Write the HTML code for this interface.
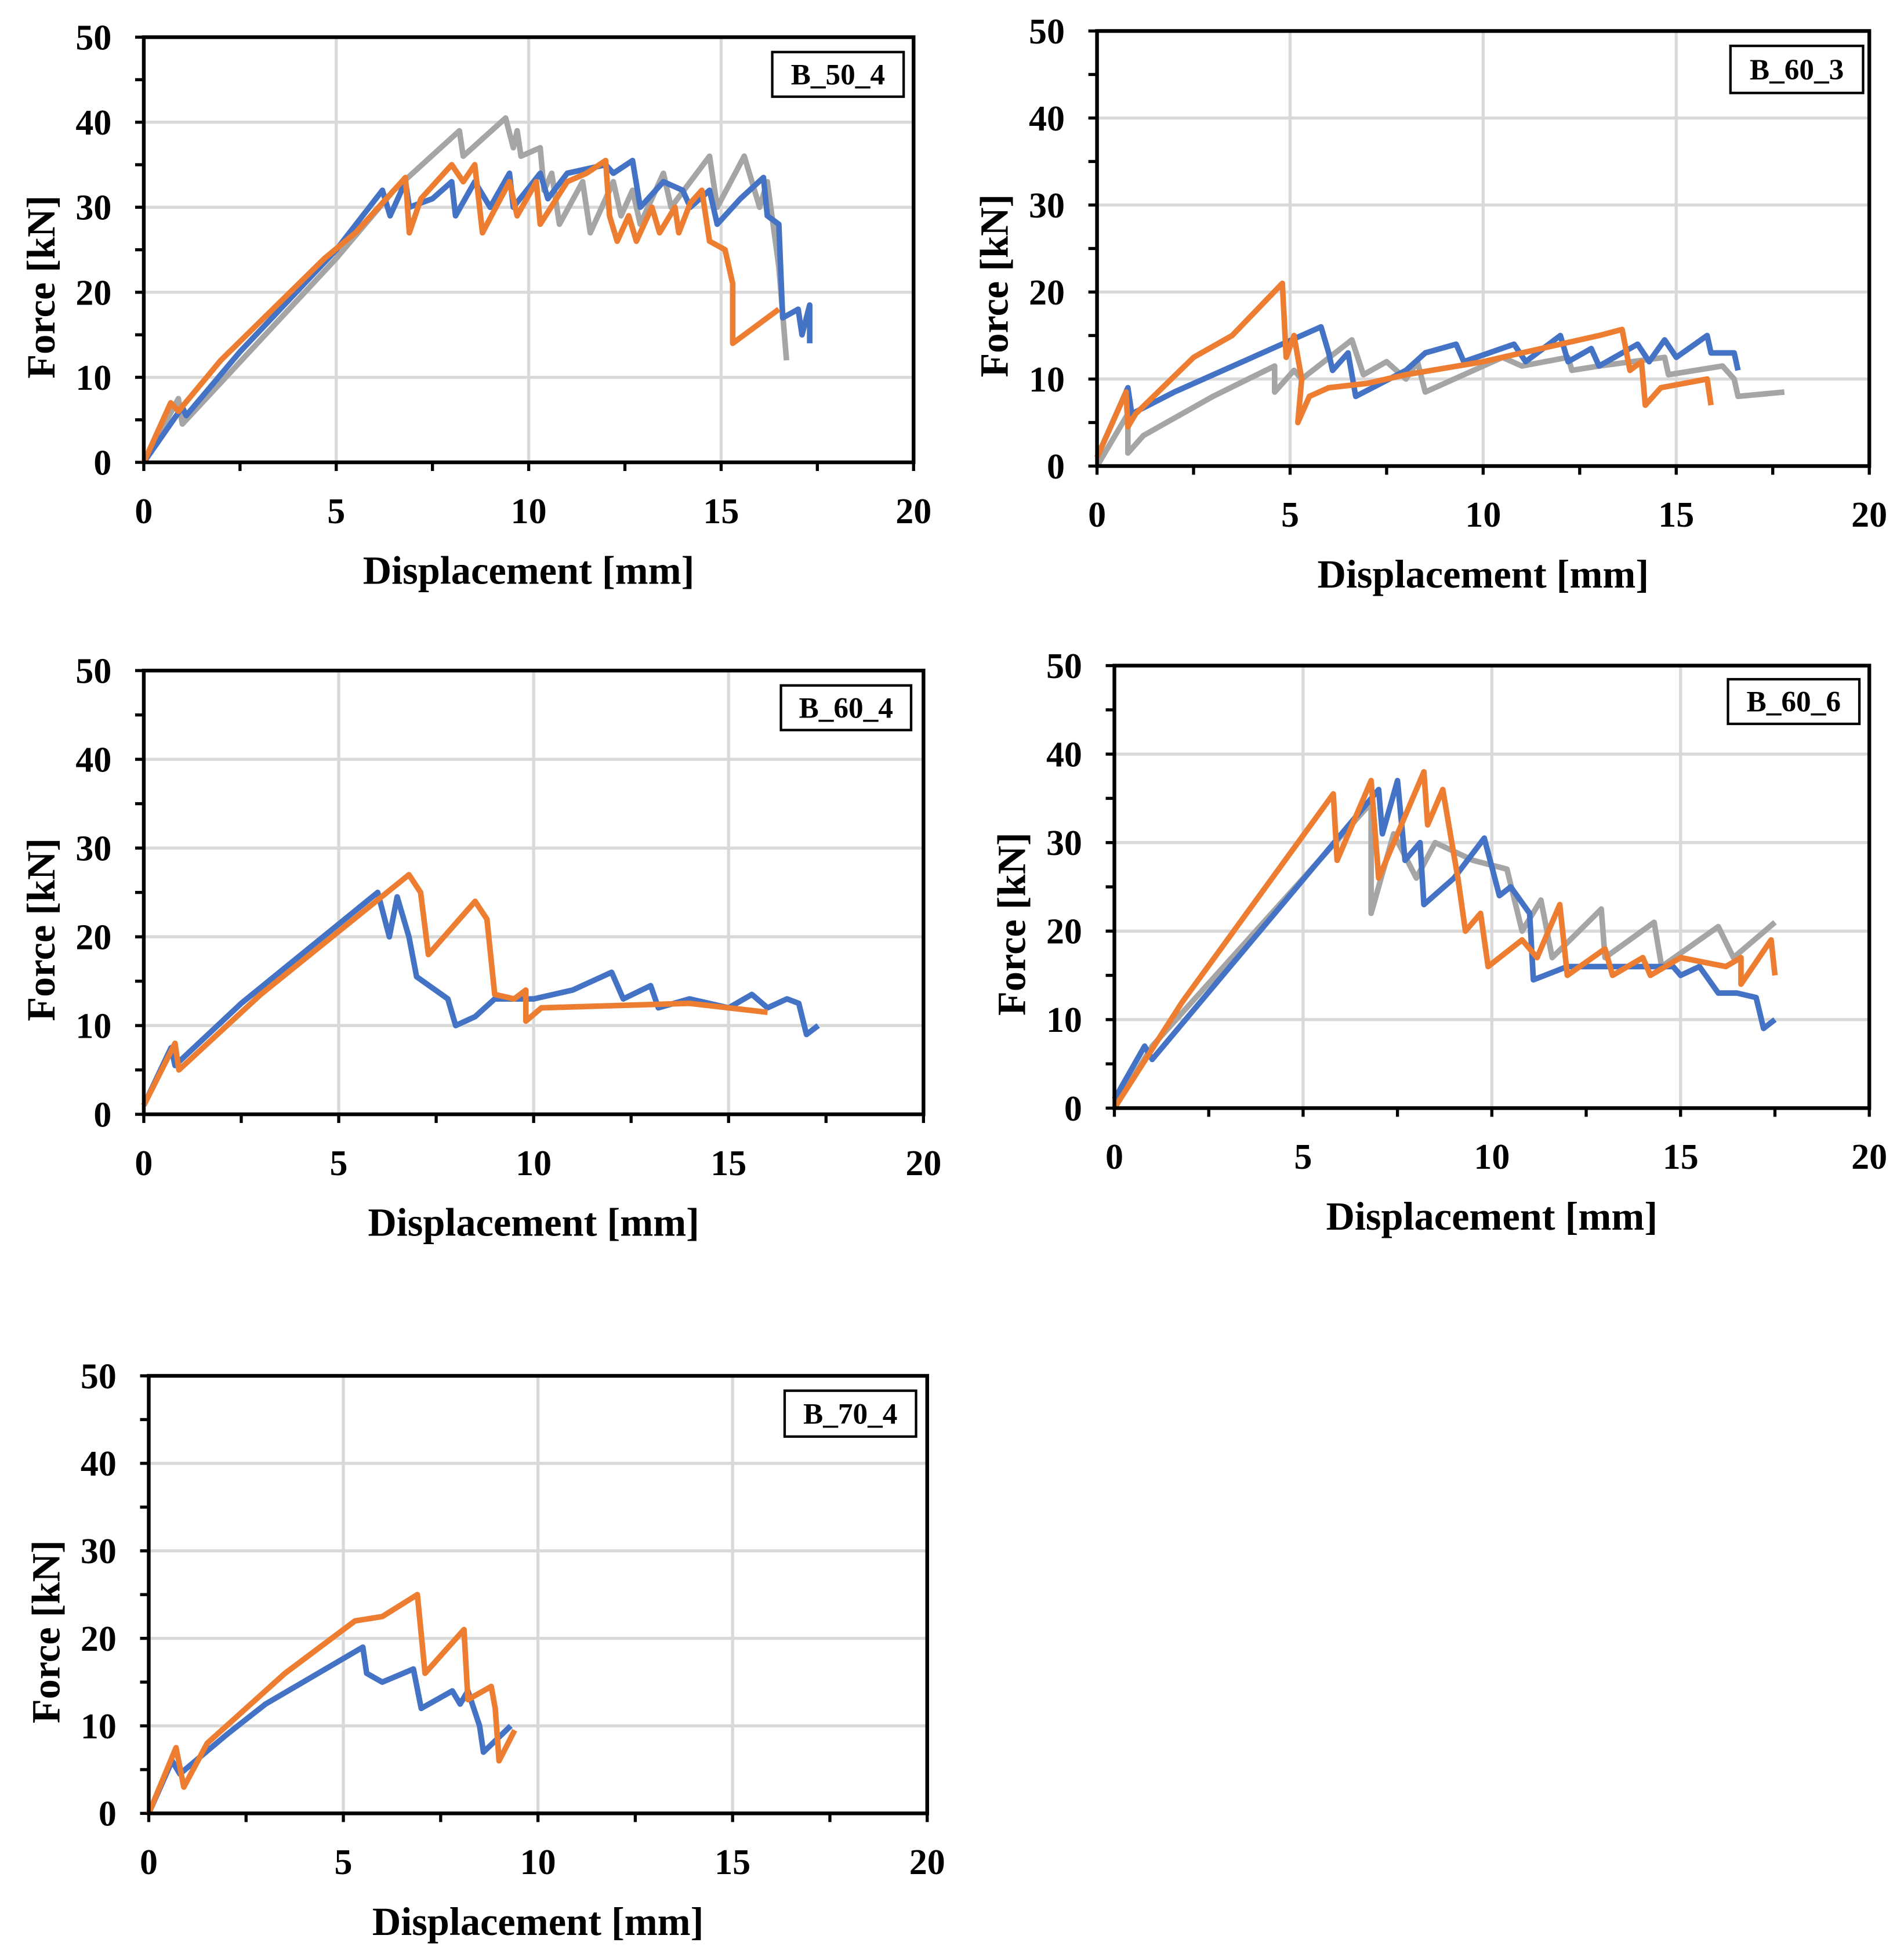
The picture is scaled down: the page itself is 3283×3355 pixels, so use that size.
<!DOCTYPE html>
<html><head><meta charset="utf-8">
<style>
html,body{margin:0;padding:0;background:#fff;}
svg{display:block;}
text{font-family:"Liberation Serif",serif;font-weight:bold;fill:#000;}
</style></head>
<body>
<svg id="fig" width="3283" height="3355" viewBox="0 0 1536 1570" preserveAspectRatio="none" xmlns="http://www.w3.org/2000/svg"></svg>
<script>
const xTicks=[0,5,10,15,20];
const yTicks=[0,10,20,30,40,50];
const chartNames=["B_50_4","B_60_3","B_60_4","B_60_6","B_70_4"];
// series data: [x,y] pairs (displacement mm, force kN)
const b504Blue=[[0,0],[1,6.5],[1.1,5.5],[2.5,13],[5,25],[6.2,32],[6.4,29],[6.8,33],[6.9,30],[7.5,31],[8,33],[8.1,29],[8.6,33],[9,30],[9.5,34],[9.6,30],[10.3,34],[10.5,31],[11,34],[12,35],[12.2,34],[12.7,35.5],[12.9,30],[13.5,33],[14,32],[14.2,30],[14.7,32],[14.9,28],[15.5,31],[16.1,33.5],[16.2,29],[16.5,28],[16.6,17],[17,18],[17.1,15],[17.3,18.5],[17.3,14]];
const b504Orange=[[0,0],[0.7,7],[0.9,6],[2,12],[4.7,24],[5.5,27],[6.8,33.5],[6.9,27],[7.2,31],[8,35],[8.3,33],[8.6,35],[8.8,27],[9.5,33],[9.7,29],[10.2,33],[10.3,28],[11,33],[11.5,34],[12,35.5],[12.1,29],[12.3,26],[12.6,29],[12.8,26],[13.2,30],[13.4,27],[13.8,30],[13.9,27],[14.2,30.5],[14.5,32],[14.6,29],[14.7,26],[15.1,25],[15.3,21],[15.3,14],[16.5,18]];
const b504Gray=[[0,0],[0.9,7.5],[1,4.5],[5,24],[6.5,32],[8.2,39],[8.3,36],[9.4,40.5],[9.6,37],[9.7,39],[9.8,36],[10.3,37],[10.4,32],[10.6,34],[10.8,28],[11.4,33],[11.6,27],[12.2,33],[12.4,29],[12.7,32],[12.9,28],[13.5,34],[13.7,30],[14.7,36],[14.9,30],[15.6,36],[16.0,30],[16.2,33],[16.5,23],[16.7,12]];
const b603Blue=[[0,1],[0.8,9],[0.9,6],[2,8.5],[5.8,16],[6,13],[6.1,11],[6.5,13],[6.7,8],[8,11],[8.5,13],[9.3,14],[9.5,12],[10.8,14],[11.1,12],[12,15],[12.2,12],[12.8,13.5],[13,11.5],[14,14],[14.3,12],[14.7,14.5],[15,12.5],[15.8,15],[15.9,13],[16.5,13],[16.6,11]];
const b603Orange=[[0,1],[0.75,8.5],[0.8,4.5],[1,6],[2.5,12.5],[3.5,15],[4.8,21],[4.9,12.5],[5.1,15],[5.3,10],[5.2,5],[5.5,8],[6,9],[7,9.5],[8,10.5],[10,12],[11,13],[13,15],[13.6,15.7],[13.8,11],[14.1,12],[14.2,7],[14.6,9],[15.8,10],[15.9,7]];
const b603Gray=[[0,0],[0.8,6],[0.8,1.5],[1.2,3.5],[3,8],[4.6,11.5],[4.6,8.5],[5.1,11],[5.3,10],[6.6,14.5],[6.9,10.5],[7.5,12],[8,10],[8.3,12],[8.5,8.5],[10.5,12.5],[11,11.5],[12.2,12.5],[12.3,11],[13,11.5],[14.7,12.5],[14.8,10.5],[16.2,11.5],[16.5,10],[16.6,8],[17.8,8.5]];
const b604Blue=[[0,1],[0.7,7.5],[0.8,5.5],[2.5,12.5],[6,25],[6.3,20],[6.5,24.5],[6.8,20],[7,15.5],[7.8,13],[8,10],[8.5,11],[9,13],[10,13],[11,14],[12,16],[12.3,13],[13,14.5],[13.2,12],[14,13],[15,12],[15.6,13.5],[16,12],[16.5,13],[16.8,12.5],[17,9],[17.3,10]];
const b604Orange=[[0,1],[0.8,8],[0.9,5],[3,13.5],[6.8,27],[7.1,25],[7.3,18],[8.5,24],[8.8,22],[9,13.5],[9.5,13],[9.8,14],[9.8,10.5],[10.2,12],[14,12.5],[16,11.5]];
const b606Blue=[[0,1],[0.8,7],[1,5.5],[7,36],[7.1,31],[7.5,37],[7.7,28],[8.1,30],[8.2,23],[9,26],[9.8,30.5],[10.2,24],[10.5,25],[11,22],[11.1,14.5],[12,16],[14,16],[14.8,16],[15,15],[15.5,16],[16,13],[16.5,13],[17,12.5],[17.2,9],[17.5,10]];
const b606Orange=[[0,0],[1.8,12],[5.8,35.5],[5.9,28],[6.8,37],[7,26],[8.2,38],[8.3,32],[8.7,36],[9.1,26],[9.3,20],[9.7,22],[9.9,16],[10.8,19],[11.2,17],[11.8,23],[12,15],[13,18],[13.2,15],[14,17],[14.2,15],[15,17],[16.2,16],[16.6,17],[16.6,14],[17.4,19],[17.5,15]];
const b606Gray=[[0,0],[1,7],[6.8,34.5],[6.8,22],[7.4,31],[8,26],[8.5,30],[9.5,28],[10.4,27],[10.8,20],[11.3,23.5],[11.6,17],[12.9,22.5],[13,17],[14.3,21],[14.5,16],[16,20.5],[16.4,17],[17.5,21]];
const b704Blue=[[0,0],[0.6,6],[0.8,4.5],[2,9],[3,12.5],[5.5,19],[5.6,16],[6,15],[6.8,16.5],[7,12],[7.8,14],[8,12.5],[8.2,14],[8.5,10],[8.6,7],[9.3,10]];
const b704Orange=[[0,0],[0.7,7.5],[0.9,3],[1.5,8],[3.5,16],[5.3,22],[6,22.5],[6.9,25],[7.1,16],[8.1,21],[8.2,13],[8.8,14.5],[8.9,12],[9,6],[9.4,9.5]];

const colors={blue:"#4472C4",orange:"#ED7D31",gray:"#A5A5A5"};
const layouts=[
 {l:116,r:737,t:30,b:373,box:[623,42,106,36],series:[["gray",b504Gray],["blue",b504Blue],["orange",b504Orange]]},
 {l:885,r:1508,t:25,b:376,box:[1396,37,107,38],series:[["gray",b603Gray],["blue",b603Blue],["orange",b603Orange]]},
 {l:116,r:745,t:541,b:899,box:[630,553,105,36],series:[["blue",b604Blue],["orange",b604Orange]]},
 {l:899,r:1508,t:537,b:894,box:[1394,548,106,36],series:[["gray",b606Gray],["blue",b606Blue],["orange",b606Orange]]},
 {l:120,r:748,t:1110,b:1463,box:[633,1122,106,37],series:[["blue",b704Blue],["orange",b704Orange]]}
];
const NS="http://www.w3.org/2000/svg";
const svg=document.getElementById('fig');
function mk(tag,attrs,parent){const e=document.createElementNS(NS,tag);for(const k in attrs)e.setAttribute(k,attrs[k]);parent.appendChild(e);return e;}
layouts.forEach((L,ci)=>{
  const g=mk('g',{},svg);
  
  
  const sx=v=>L.l+(L.r-L.l)*v/20;
  const sy=v=>L.b-(L.b-L.t)*v/50;
  xTicks.forEach(v=>{
    if(v>0&&v<20){const gl=mk('line',{x1:sx(v),x2:sx(v),y1:L.t,y2:L.b,stroke:"#d9d9d9","stroke-width":2.5},g);
    
    }
    const t=mk('text',{x:sx(v),y:L.b+49,"text-anchor":"middle","font-size":29},g);t.textContent=v;
    
    
  });
  for(let v=0;v<=20;v+=2.5){mk('line',{x1:sx(v),x2:sx(v),y1:L.b,y2:L.b+7,stroke:"#000","stroke-width":2.5},g);}
  yTicks.forEach(v=>{
    if(v>0&&v<50){const gl=mk('line',{x1:L.l,x2:L.r,y1:sy(v),y2:sy(v),stroke:"#d9d9d9","stroke-width":2.5},g);
    
    }
    const t=mk('text',{x:L.l-26,y:sy(v)+10,"text-anchor":"end","font-size":29},g);t.textContent=v;
    
    
  });
  for(let v=0;v<=50;v+=5){mk('line',{x1:L.l-7,x2:L.l,y1:sy(v),y2:sy(v),stroke:"#000","stroke-width":2.5},g);}
  L.series.forEach(([c,data])=>{
    const p=mk('polyline',{points:data.map(d=>sx(d[0]).toFixed(1)+','+sy(d[1]).toFixed(1)).join(' '),fill:"none",stroke:colors[c],"stroke-width":4.5,"stroke-linejoin":"round"},g);
    
    
  });
  const fr=mk('rect',{x:L.l,y:L.t,width:L.r-L.l,height:L.b-L.t,fill:"none",stroke:"#000","stroke-width":3},g);
  
  
  const [bx,by,bw,bh]=L.box;
  const br=mk('rect',{x:bx,y:by,width:bw,height:bh,fill:"#fff",stroke:"#000","stroke-width":2},g);
  
  
  const bt=mk('text',{x:bx+bw/2,y:by+bh/2+8,"text-anchor":"middle","font-size":24},g);bt.textContent=chartNames[ci];
  
  
  const xt=mk('text',{x:(L.l+L.r)/2,y:L.b+98,"text-anchor":"middle","font-size":32},g);xt.textContent="Displacement [mm]";
  
  
  const cy=(L.t+L.b)/2+30;const cx=L.l-72;
  const yt=mk('text',{x:cx,y:cy,"text-anchor":"middle","font-size":32,transform:`rotate(-90 ${cx} ${cy})`},g);yt.textContent="Force [kN]";
  
  
});
</script>
</body></html>
